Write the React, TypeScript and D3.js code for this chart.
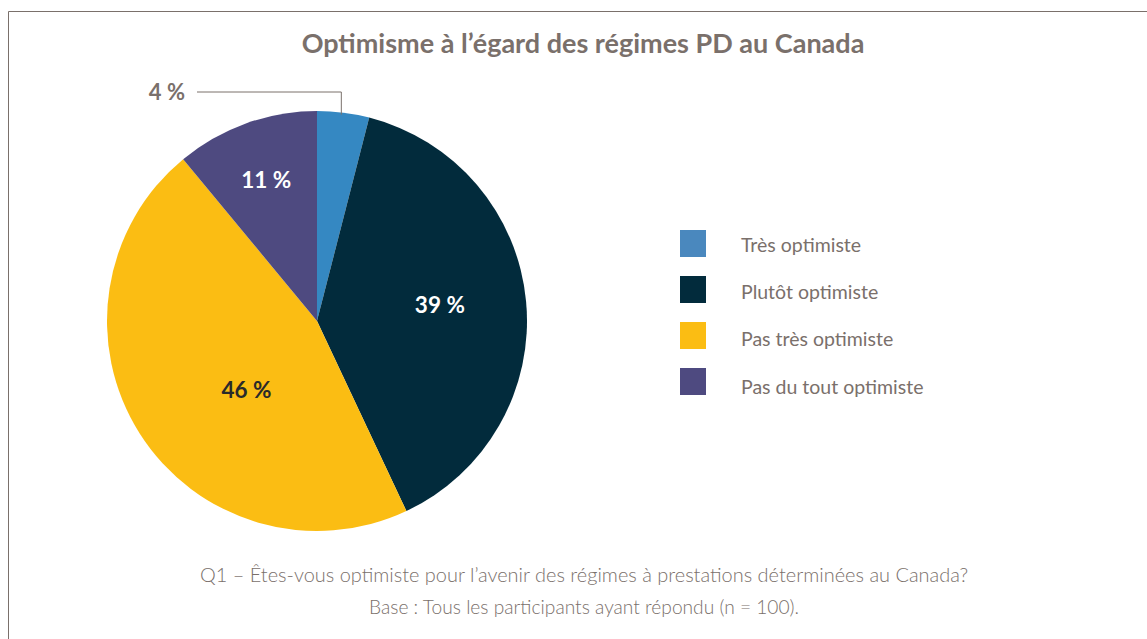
import React from "react";
import * as d3 from "d3";

const categories = ["Très optimiste", "Plutôt optimiste", "Pas très optimiste", "Pas du tout optimiste"];
const values = [4, 39, 46, 11];
const colors = ["#3588c2", "#022b3c", "#fbbd13", "#4e4a80"];
const legendColors = ["#4a88be", "#022b3c", "#fbbd13", "#4e4a80"];
const labelColors = ["#7a706b", "#ffffff", "#2a2a2a", "#ffffff"];
const title = "Optimisme à l’égard des régimes PD au Canada";
const footer = [
  "Q1 – Êtes-vous optimiste pour l’avenir des régimes à prestations déterminées au Canada?",
  "Base : Tous les participants ayant répondu (n = 100).",
];

const W = 1147;
const H = 639;
const cx = 317;
const cy = 321;
const R = 210;
const textColor = "#7a706b";
const font = "Lato, 'Open Sans', sans-serif";
// label placement: radius factor and angle shift (radians) per slice
const labelRadius = [1, 0.59, 0.47, 0.715];
const labelShift = [0, -0.035, -0.21, 0];

export default function App() {
  const pie = d3.pie<number>().sort(null).value((d) => d);
  const arcs = pie(values);
  const arcGen = d3.arc<d3.PieArcDatum<number>>().innerRadius(0).outerRadius(R);

  const labelPos = arcs.map((a, i) => {
    const mid = (a.startAngle + a.endAngle) / 2 + labelShift[i];
    const rr = R * labelRadius[i];
    return [Math.sin(mid) * rr, -Math.cos(mid) * rr];
  });

  const small = arcs[0];
  const smallMid = (small.startAngle + small.endAngle) / 2;
  const lineX = Math.sin(smallMid) * R;
  const lineTopY = -Math.cos(smallMid) * R;

  return (
    <svg width={W} height={H} style={{ position: "absolute", left: 0, top: 0 }}>
      <rect x={0} y={0} width={W} height={H} fill="#ffffff" />
      <line x1={8.5} y1={11.5} x2={W} y2={11.5} stroke="#7a706b" strokeWidth={1} />
      <line x1={8.5} y1={11.5} x2={8.5} y2={H} stroke="#7a706b" strokeWidth={1} />
      <text x={583} y={53} textAnchor="middle" fontFamily={font} fontWeight={700} fontSize={27} fill={textColor}>
        {title}
      </text>
      <g transform={`translate(${cx},${cy})`}>
        {arcs.map((a, i) => (
          <path key={i} d={arcGen(a) || ""} fill={colors[i]} />
        ))}
        {arcs.map((a, i) =>
          i === 0 ? null : (
            <text
              key={i}
              x={labelPos[i][0]}
              y={labelPos[i][1]}
              dy="0.35em"
              textAnchor="middle"
              fontFamily={font}
              fontWeight={700}
              fontSize={22.5}
              fill={labelColors[i]}
            >
              {`${values[i]} %`}
            </text>
          )
        )}
        <polyline
          points={`${-120},${-229} ${lineX - 2},${-229} ${lineX - 2},${lineTopY + 2}`}
          fill="none"
          stroke="#7a706b"
          strokeWidth={1}
        />
        <text x={-132} y={-229} dy="0.35em" textAnchor="end" fontFamily={font} fontWeight={700} fontSize={22} fill={labelColors[0]}>
          {`${values[0]} %`}
        </text>
      </g>
      {categories.map((c, i) => (
        <g key={c}>
          <rect x={680} y={230 + i * 46} width={26} height={27} fill={legendColors[i]} />
          <text x={741} y={245 + i * 47.3} dy="0.35em" fontFamily={font} fontSize={19.5} fill={textColor}>
            {c}
          </text>
        </g>
      ))}
      <text x={584} y={582} textAnchor="middle" fontFamily={font} fontWeight={300} fontSize={19} fill={textColor} textLength={768} lengthAdjust="spacingAndGlyphs">
        {footer[0]}
      </text>
      <text x={584} y={614} textAnchor="middle" fontFamily={font} fontWeight={300} fontSize={19} fill={textColor} textLength={430} lengthAdjust="spacingAndGlyphs">
        {footer[1]}
      </text>
    </svg>
  );
}
